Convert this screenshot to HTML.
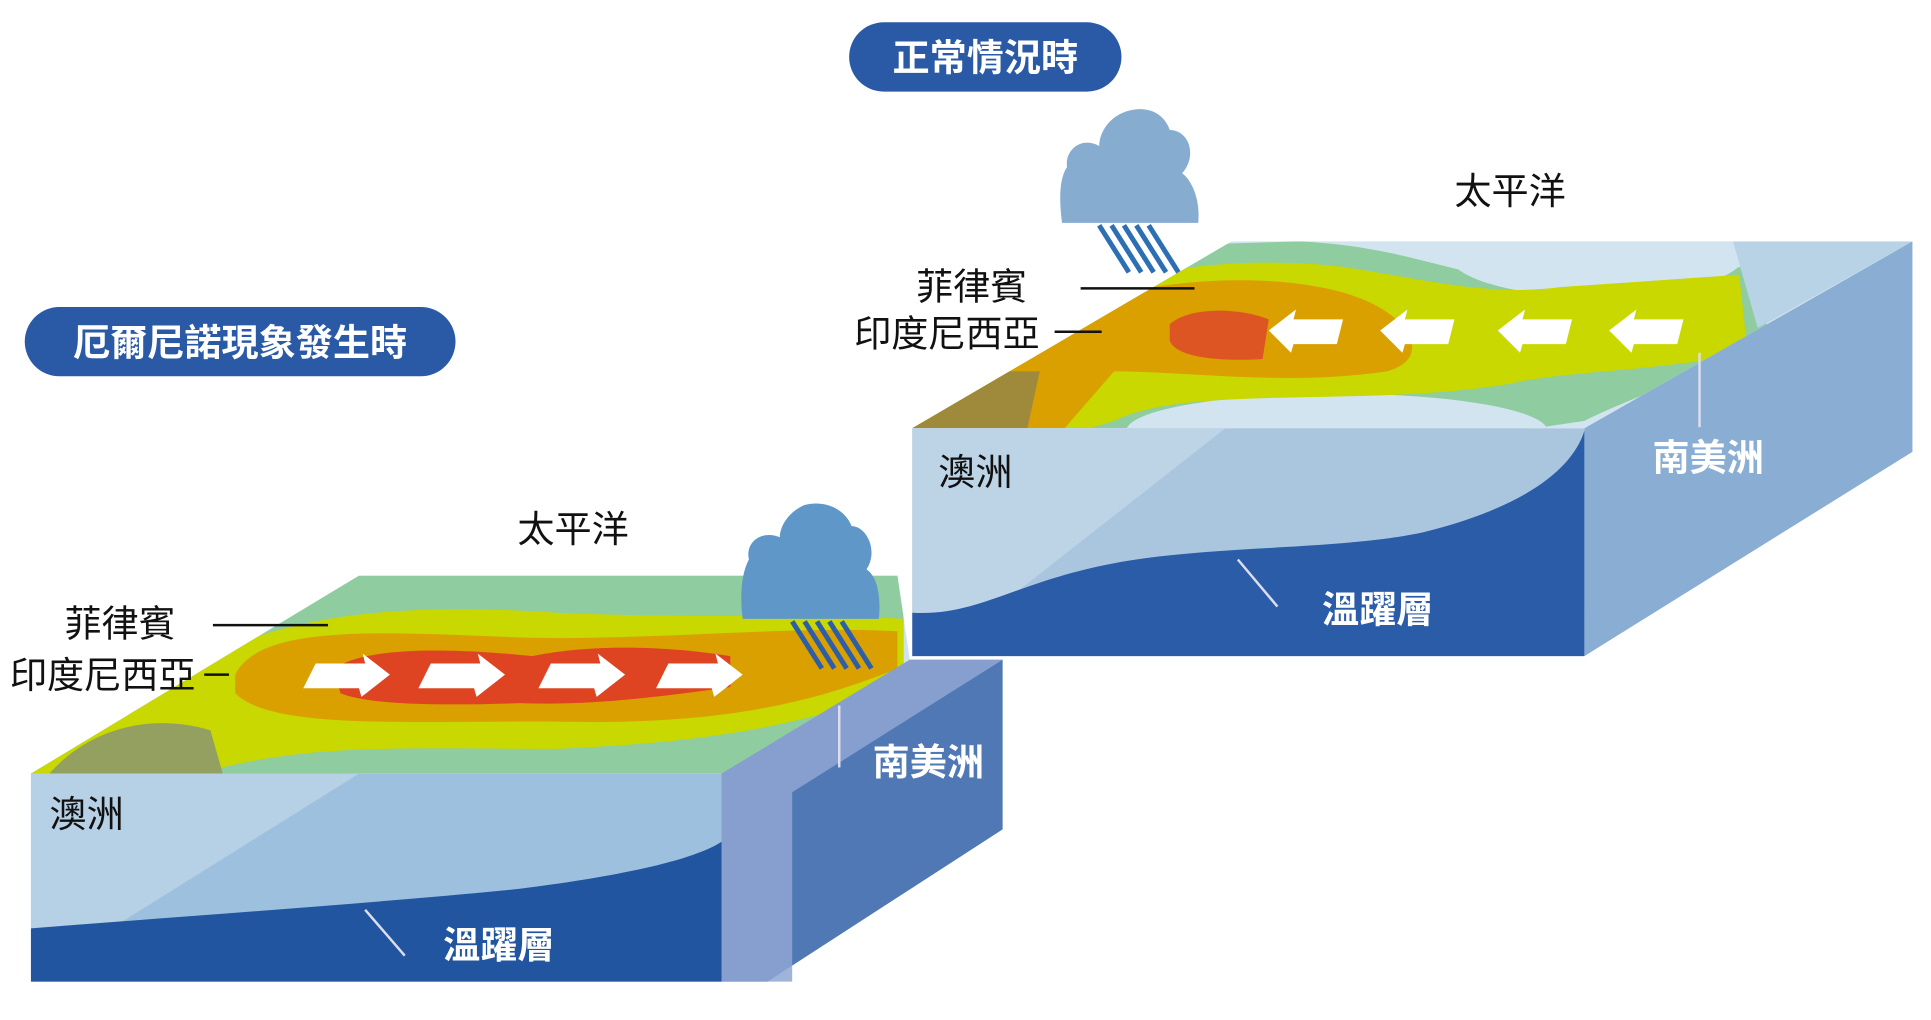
<!DOCTYPE html>
<html><head><meta charset="utf-8"><style>
html,body{margin:0;padding:0;background:#fff;width:1931px;height:1020px;overflow:hidden}
svg{display:block}
text{font-family:"Liberation Sans","Noto Sans CJK TC",sans-serif;font-size:30px}
.w{fill:#fff;font-weight:bold}
.b{fill:#111}
</style></head><body>
<svg width="1931" height="1020" viewBox="0 0 1560 824" preserveAspectRatio="none">
<rect x="686" y="18" width="220" height="56" rx="28" fill="#2a5aa6"/>
<text x="796" y="57" class="w" text-anchor="middle">正常情況時</text>
<rect x="20" y="248" width="348" height="56" rx="28" fill="#2a5aa6"/>
<text x="194" y="287" class="w" text-anchor="middle">厄爾尼諾現象發生時</text>

<defs>
<clipPath id="rt"><polygon points="737,346 1280,346 1545,195 995,195"/></clipPath>
<clipPath id="lt"><polygon points="25,625 583,625 735,533 725,465 290,465"/></clipPath>
</defs>
<polygon points="737,346 1280,346 1545,195 995,195" fill="#d2e4ef"/>
<g clip-path="url(#rt)">
<path d="M730,346 L880,200 L1050,195 C1150,200 1180,230 1260,225 L1420,215 L1430,280 C1380,300 1320,320 1280,340 L1240,346 Z" fill="#8fcc9f"/>
<ellipse cx="1290" cy="205" rx="120" ry="35" fill="#d2e4ef"/>
<ellipse cx="1080" cy="348" rx="170" ry="30" fill="#d2e4ef"/>
<path d="M730,346 L790,290 C860,220 980,205 1080,215 C1150,225 1200,240 1260,232 L1405,222 L1412,285 C1340,300 1260,300 1220,310 C1100,330 960,310 900,340 L880,346 Z" fill="#c8d800"/>
<path d="M730,346 L800,280 C870,230 1000,215 1080,235 C1140,250 1160,290 1120,300 C1040,312 960,300 900,300 L860,346 Z" fill="#d9a000"/>
<path d="M730,346 L790,300 L840,300 L830,346 Z" fill="#9e8a3a"/>
<path d="M945,262 C960,248 1000,248 1025,258 L1020,290 C990,292 950,290 945,275 Z" fill="#dd5522"/>
<path d="M1400,195 L1545,195 L1420,265 Z" fill="#b8d2e6"/>
</g>
<g fill="#fff">
<polygon points="1025,267 1047,250 1045,258 1085,258 1080,278 1045,278 1043,285"/>
<polygon points="1115,267 1137,250 1135,258 1175,258 1170,278 1135,278 1133,285"/>
<polygon points="1210,267 1232,250 1230,258 1270,258 1265,278 1230,278 1228,285"/>
<polygon points="1300,267 1322,250 1320,258 1360,258 1355,278 1320,278 1318,285"/>
</g>
<rect x="737" y="346" width="543" height="184" fill="#aac6df"/>
<polygon points="737,346 990,346 800,495 737,495" fill="#bdd3e6"/>
<path d="M737,495 C790,498 820,470 900,455 C980,440 1080,445 1150,430 C1230,410 1270,380 1280,348 L1280,530 L737,530 Z" fill="#2b5ca8"/>
<polygon points="1280,346 1545,195 1545,365 1280,530" fill="#8aaed3"/>
<line x1="1373" y1="285" x2="1373" y2="345" stroke="#dde" stroke-width="2"/>
<line x1="1000" y1="452" x2="1032" y2="490" stroke="#dde" stroke-width="2"/>
<path d="M858,180 L968,180 C970,160 962,145 955,140 C968,125 960,105 945,105 C940,90 925,85 910,90 C895,95 888,108 888,118 C875,110 860,120 862,135 C855,145 856,165 858,180 Z" fill="#86acd0"/>
<g stroke="#2d6fb3" stroke-width="4">
<line x1="888" y1="182" x2="912" y2="220"/><line x1="898" y1="182" x2="922" y2="220"/><line x1="908" y1="182" x2="932" y2="220"/><line x1="918" y1="182" x2="942" y2="220"/><line x1="928" y1="182" x2="952" y2="220"/>
</g>
<text x="1175" y="165" class="b">太平洋</text>
<text x="740" y="242" class="b">菲律賓</text>
<line x1="873" y1="233" x2="965" y2="233" stroke="#111" stroke-width="2"/>
<text x="690" y="280" class="b">印度尼西亞</text>
<line x1="852" y1="268" x2="890" y2="268" stroke="#111" stroke-width="2"/>
<text x="758" y="392" class="b">澳洲</text>
<text x="1068" y="503" class="w">溫躍層</text>
<text x="1335" y="380" class="w">南美洲</text>

<polygon points="25,625 583,625 735,533 725,465 290,465" fill="#cfe2ee"/>
<g clip-path="url(#lt)">
<path d="M20,625 L290,465 L730,465 L730,560 L620,625 Z" fill="#8fcc9f"/>
<path d="M20,625 L120,560 C200,500 300,485 450,495 C560,500 650,495 730,500 L730,555 C640,590 560,600 450,605 C320,605 250,600 160,625 Z" fill="#c8d800"/>
<path d="M190,545 C210,505 300,510 420,515 C520,518 640,505 725,510 L725,540 C640,575 560,585 450,583 C330,582 220,590 190,560 Z" fill="#d9a000"/>
<path d="M270,540 C300,520 380,525 430,530 C480,520 540,522 590,530 L590,555 C520,565 470,570 420,568 C360,570 300,570 275,560 Z" fill="#de4422"/>
<path d="M40,625 C70,590 120,575 170,590 L180,625 Z" fill="#93a060"/>
</g>
<g fill="#fff">
<polygon points="315,545 293,528 295,536 255,536 245,556 290,556 292,563"/>
<polygon points="408,545 386,528 388,536 348,536 338,556 383,556 385,563"/>
<polygon points="505,545 483,528 485,536 445,536 435,556 480,556 482,563"/>
<polygon points="600,545 578,528 580,536 540,536 530,556 575,556 577,563"/>
</g>
<rect x="25" y="625" width="558" height="168" fill="#9dc0de"/>
<polygon points="25,625 290,625 90,750 25,750" fill="#b6d0e6"/>
<path d="M25,750 C150,740 300,730 420,718 C500,708 560,695 583,680 L583,793 L25,793 Z" fill="#2255a0"/>
<polygon points="583,625 735,533 810,533 810,670 620,793 583,793" fill="#4f78b5"/>
<polygon points="583,625 735,533 810,533 640,640 640,793 583,793" fill="#8fa6d2" opacity="0.85"/>
<line x1="678" y1="570" x2="678" y2="620" stroke="#dde" stroke-width="2"/>
<line x1="295" y1="735" x2="327" y2="772" stroke="#dde" stroke-width="2"/>
<path d="M600,500 L710,500 C712,480 708,465 700,460 C710,445 700,425 688,425 C682,410 665,404 650,408 C636,414 630,426 630,434 C615,428 602,438 605,452 C598,465 598,485 600,500 Z" fill="#5f98c8"/>
<g stroke="#2d5ea8" stroke-width="4">
<line x1="640" y1="502" x2="664" y2="540"/><line x1="650" y1="502" x2="674" y2="540"/><line x1="660" y1="502" x2="684" y2="540"/><line x1="670" y1="502" x2="694" y2="540"/><line x1="680" y1="502" x2="704" y2="540"/>
</g>
<text x="418" y="438" class="b">太平洋</text>
<text x="52" y="514" class="b">菲律賓</text>
<line x1="172" y1="505" x2="265" y2="505" stroke="#111" stroke-width="2"/>
<text x="8" y="556" class="b">印度尼西亞</text>
<line x1="165" y1="545" x2="185" y2="545" stroke="#111" stroke-width="2"/>
<text x="40" y="668" class="b">澳洲</text>
<text x="358" y="774" class="w">溫躍層</text>
<text x="705" y="626" class="w">南美洲</text>
</svg>
</body></html>
